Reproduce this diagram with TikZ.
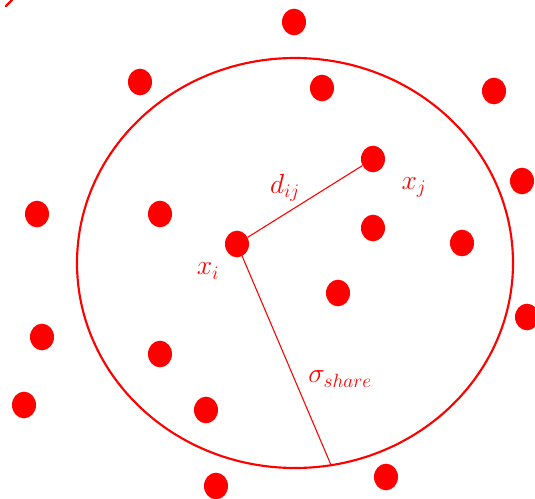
\documentclass[tikz,border=0pt]{standalone}
\usetikzlibrary{shapes.geometric}
\definecolor{dotred}{RGB}{255,0,0}
\tikzset{
  dot/.style={ellipse, fill=dotred, inner sep=0pt, minimum width=18pt, minimum height=20pt},
  lab/.style={text=dotred, font=\fontsize{22}{26}\selectfont, inner sep=0pt},
  conn/.style={draw=dotred, line width=0.8pt}
}
\begin{document}
\begin{tikzpicture}[x=0.75pt,y=-0.75pt]
\useasboundingbox (0,0) rectangle (535,499);
\draw[dotred, line width=1.6pt] (295,263) ellipse [x radius=163.5pt, y radius=153.75pt];
\draw[dotred, line width=1.6pt, line cap=round] (12,0) -- (6,6);
\node[dot] (p1) at (294,22) {};
\node[dot] (p2) at (140,82) {};
\node[dot] (p3) at (322,88) {};
\node[dot] (p4) at (494,91) {};
\node[dot] (xj) at (373,159) {};
\node[dot] (p6) at (522,181) {};
\node[dot] (p7) at (37,214) {};
\node[dot] (p8) at (160,214) {};
\node[dot] (xi) at (237,244) {};
\node[dot] (p10) at (373,228) {};
\node[dot] (p11) at (462,243) {};
\node[dot] (p12) at (338,293) {};
\node[dot] (p13) at (527,317) {};
\node[dot] (p14) at (42,337) {};
\node[dot] (p15) at (160,354) {};
\node[dot] (p16) at (24,405) {};
\node[dot] (p17) at (206,410) {};
\node[dot] (p18) at (386,477) {};
\node[dot] (p19) at (216,486) {};
\coordinate (rim) at (331,465);
\draw[conn] (xi) -- (xj);
\draw[conn] (xi) -- (rim);
\node[lab] (ldij) at (285,188) {$d_{ij}$};
\node[lab] (lxj) at (414,187) {$x_j$};
\node[lab] (lxi) at (208,271) {$x_i$};
\node[lab] (lsig) at (340,379) {$\sigma_{share}$};
\end{tikzpicture}
\end{document}
